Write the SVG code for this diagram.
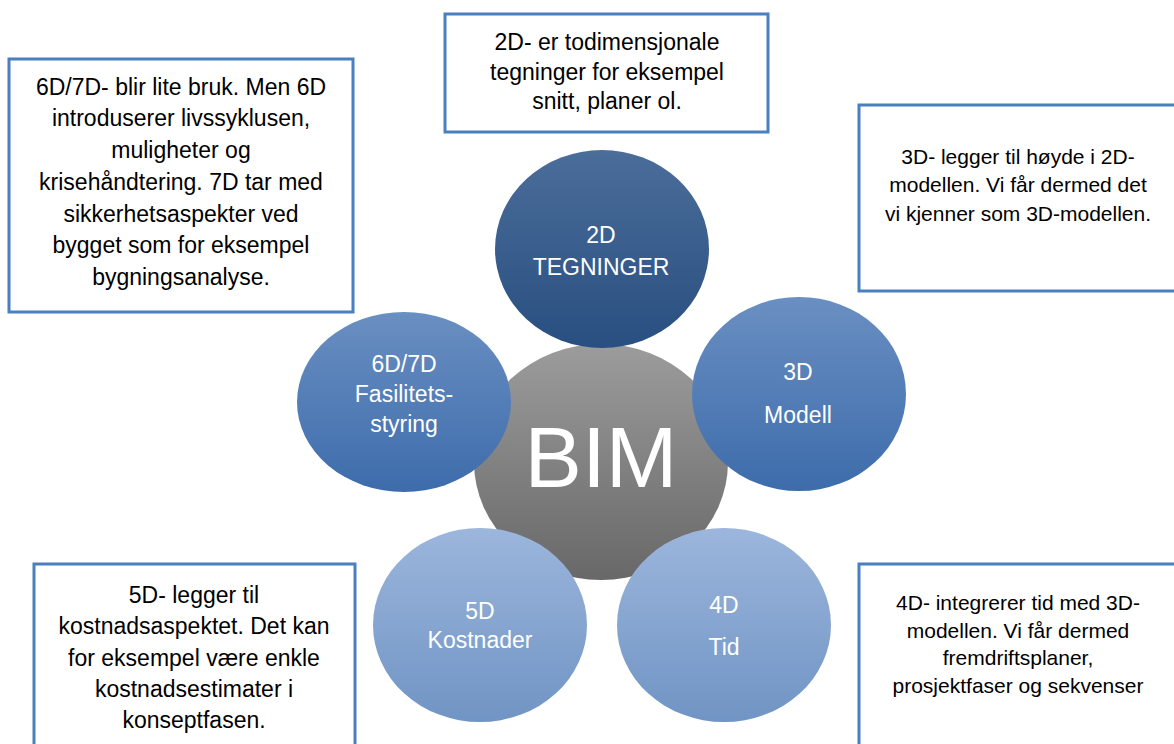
<svg xmlns="http://www.w3.org/2000/svg" width="1174" height="744" viewBox="0 0 1174 744">
<style>
.box{fill:#fff;stroke:#4a7fc0;stroke-width:3}
.bt{font-family:"Liberation Sans",Arial,sans-serif;font-size:23px;fill:#000;text-anchor:middle}
.bs{font-size:21px}
.ct{font-family:"Liberation Sans",Arial,sans-serif;font-size:23px;fill:#fff;text-anchor:middle}
.bim{font-family:"Liberation Sans",Arial,sans-serif;font-size:86px;fill:#fff;text-anchor:middle}
</style>
<defs>
<linearGradient id="gGray" x1="0" y1="0" x2="0" y2="1"><stop offset="0" stop-color="#9c9c9c"/><stop offset="1" stop-color="#686868"/></linearGradient>
<linearGradient id="gDark" x1="0" y1="0" x2="0" y2="1"><stop offset="0" stop-color="#4b6d9a"/><stop offset="1" stop-color="#284f80"/></linearGradient>
<linearGradient id="gMid" x1="0" y1="0" x2="0" y2="1"><stop offset="0" stop-color="#6a8fc2"/><stop offset="1" stop-color="#3d6cab"/></linearGradient>
<linearGradient id="gLight" x1="0" y1="0" x2="0" y2="1"><stop offset="0" stop-color="#9cb6dc"/><stop offset="1" stop-color="#7094c4"/></linearGradient>
</defs>

<g id="bim">
<ellipse cx="601" cy="462" rx="127" ry="118" fill="url(#gGray)"/>
<text class="bim" x="601" y="487">BIM</text>
</g>

<g id="node-2d">
<ellipse cx="602" cy="249" rx="107" ry="99" fill="url(#gDark)"/>
<text class="ct" x="601" y="243">2D</text>
<text class="ct" x="601" y="275">TEGNINGER</text>
</g>

<g id="node-3d">
<ellipse cx="799" cy="394" rx="107" ry="97" fill="url(#gMid)"/>
<text class="ct" x="798" y="380">3D</text>
<text class="ct" x="798" y="423">Modell</text>
</g>

<g id="node-6d">
<ellipse cx="404" cy="402" rx="107" ry="90" fill="url(#gMid)"/>
<text class="ct" x="404" y="372">6D/7D</text>
<text class="ct" x="404" y="402">Fasilitets-</text>
<text class="ct" x="404" y="432">styring</text>
</g>

<g id="node-5d">
<ellipse cx="480" cy="625" rx="107" ry="97" fill="url(#gLight)"/>
<text class="ct" x="480" y="619">5D</text>
<text class="ct" x="480" y="648">Kostnader</text>
</g>

<g id="node-4d">
<ellipse cx="724" cy="625" rx="107" ry="97" fill="url(#gLight)"/>
<text class="ct" x="724" y="613">4D</text>
<text class="ct" x="724" y="655">Tid</text>
</g>

<g id="box-2d">
<rect class="box" x="445" y="14" width="323" height="118"/>
<text class="bt" x="607" y="50">2D- er todimensjonale</text>
<text class="bt" x="607" y="80">tegninger for eksempel</text>
<text class="bt" x="607" y="109">snitt, planer ol.</text>
</g>

<g id="box-6d">
<rect class="box" x="9" y="59" width="344" height="253"/>
<text class="bt" x="181" y="95">6D/7D- blir lite bruk. Men 6D</text>
<text class="bt" x="181" y="126">introduserer livssyklusen,</text>
<text class="bt" x="181" y="158">muligheter og</text>
<text class="bt" x="181" y="190">krisehåndtering. 7D tar med</text>
<text class="bt" x="181" y="222">sikkerhetsaspekter ved</text>
<text class="bt" x="181" y="253">bygget som for eksempel</text>
<text class="bt" x="181" y="285">bygningsanalyse.</text>
</g>

<g id="box-3d">
<rect class="box" x="859" y="105" width="330" height="186"/>
<text class="bt bs" x="1018" y="164">3D- legger til høyde i 2D-</text>
<text class="bt bs" x="1018" y="192">modellen. Vi får dermed det</text>
<text class="bt bs" x="1018" y="221">vi kjenner som 3D-modellen.</text>
</g>

<g id="box-5d">
<rect class="box" x="34" y="564" width="321" height="200"/>
<text class="bt" x="194" y="603">5D- legger til</text>
<text class="bt" x="194" y="634">kostnadsaspektet. Det kan</text>
<text class="bt" x="194" y="666">for eksempel være enkle</text>
<text class="bt" x="194" y="697">kostnadsestimater i</text>
<text class="bt" x="194" y="728">konseptfasen.</text>
</g>

<g id="box-4d">
<rect class="box" x="859" y="564" width="330" height="200"/>
<text class="bt bs" x="1018" y="610">4D- integrerer tid med 3D-</text>
<text class="bt bs" x="1018" y="638">modellen. Vi får dermed</text>
<text class="bt bs" x="1018" y="665">fremdriftsplaner,</text>
<text class="bt bs" x="1018" y="693">prosjektfaser og sekvenser</text>
</g>
</svg>
